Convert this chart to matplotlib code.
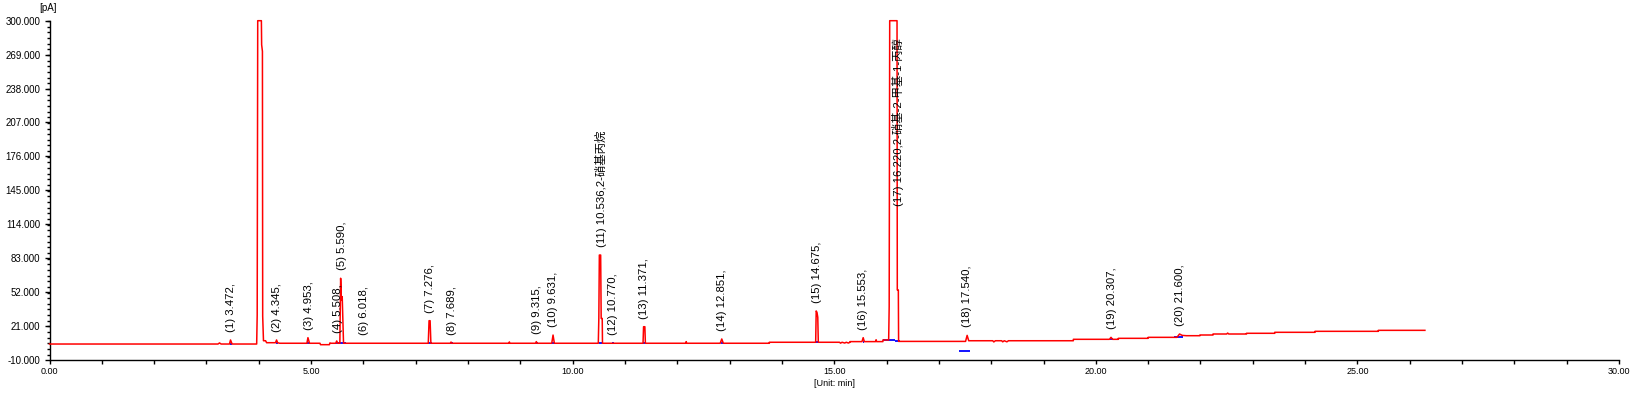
import matplotlib
matplotlib.use('Agg')
import matplotlib.pyplot as plt
from matplotlib.ticker import MultipleLocator, FormatStrFormatter

plt.rcParams['font.family'] = ['Liberation Sans', 'Noto Sans CJK SC', 'DejaVu Sans']

# peak table: retention time, apex height [pA], label
peak_rt = [3.472, 4.345, 4.953, 5.508, 5.590, 6.018, 7.276, 7.689, 9.315, 9.631,
           10.536, 10.770, 11.371, 12.851, 14.675, 15.553, 16.220, 17.540, 20.307, 21.600]
peak_height = [8.3, 8.3, 10.4, 7.4, 64.7, 5.3, 25.9, 5.6, 6.8, 12.8,
               85.9, 5.6, 20.4, 9.2, 34.8, 10.4, 300.0, 12.5, 10.7, 13.75]
peak_label = ["(1) 3.472,", "(2) 4.345,", "(3) 4.953,", "(4) 5.508,", "(5) 5.590,",
              "(6) 6.018,", "(7) 7.276,", "(8) 7.689,", "(9) 9.315,", "(10) 9.631,",
              "(11) 10.536,2-硝基丙烷", "(12) 10.770,", "(13) 11.371,", "(14) 12.851,",
              "(15) 14.675,", "(16) 15.553,", "(17) 16.220,2-硝基-2-甲基-1-丙醇",
              "(18) 17.540,", "(19) 20.307,", "(20) 21.600,"]

# chromatogram trace (min, pA)
trace_t = [0.00, 3.22, 3.25, 3.28, 3.44, 3.46, 3.49, 3.96, 3.97, 3.98, 4.05, 4.055, 4.07, 4.075,
           4.09, 4.13, 4.15, 4.32, 4.34, 4.36, 4.40, 4.92, 4.94, 4.97, 5.17, 5.18, 5.35, 5.36,
           5.38, 5.47, 5.49, 5.51, 5.55, 5.565, 5.58, 5.595, 5.62, 7.24, 7.255, 7.275, 7.29,
           7.66, 7.675, 7.69, 8.78, 8.79, 8.80, 9.29, 9.305, 9.32, 9.60, 9.625, 9.65,
           10.49, 10.50, 10.51, 10.535, 10.545, 10.565, 10.57, 11.345, 11.355, 11.38, 11.39,
           12.16, 12.17, 12.18, 12.82, 12.85, 12.88, 13.76, 13.76, 14.645, 14.655, 14.67,
           14.685, 14.695, 15.10, 15.12, 15.15, 15.20, 15.23, 15.27, 15.30, 15.30, 15.53,
           15.553, 15.575, 15.79, 15.80, 15.81, 15.93, 15.93, 16.04, 16.05, 16.06, 16.20,
           16.205, 16.225, 16.23, 17.51, 17.54, 17.57, 18.03, 18.05, 18.08, 18.20, 18.22,
           18.25, 18.30, 18.33, 19.57, 19.57, 20.26, 20.29, 20.32, 20.43, 20.43, 21.00,
           21.00, 21.55, 21.60, 21.65, 21.73, 21.99, 21.99, 22.24, 22.24, 22.50, 22.52,
           22.54, 22.88, 22.88, 23.42, 23.42, 24.19, 24.19, 25.40, 25.40, 26.29]
trace_v = [4.6, 4.6, 5.6, 4.6, 4.6, 8.3, 4.6, 4.6, 31.0, 300.0, 300.0, 278.0, 272.0, 30.0,
           7.6, 7.6, 5.8, 5.8, 8.3, 5.8, 5.3, 5.3, 10.4, 5.3, 5.3, 4.0, 4.0, 5.6,
           5.3, 5.3, 7.4, 5.3, 5.3, 64.7, 45.0, 47.9, 5.3, 5.3, 25.9, 25.9, 5.3,
           5.3, 6.4, 5.3, 5.3, 6.5, 5.3, 5.3, 6.8, 5.3, 5.3, 12.8, 5.3,
           5.3, 28.0, 85.9, 85.9, 28.0, 28.0, 5.3, 5.3, 20.4, 20.4, 5.3,
           5.3, 6.8, 5.3, 5.3, 9.2, 5.3, 5.3, 6.2, 6.2, 34.8, 33.5,
           29.0, 6.2, 6.2, 5.4, 6.2, 5.5, 6.2, 5.5, 6.2, 6.8, 6.8,
           10.4, 6.8, 6.8, 8.5, 6.8, 6.8, 8.3, 8.3, 38.7, 300.0, 300.0,
           54.0, 54.0, 7.0, 7.0, 12.5, 7.6, 7.6, 6.5, 7.6, 7.6, 6.6,
           7.6, 6.6, 7.6, 7.6, 8.9, 8.9, 10.7, 8.9, 8.9, 9.8, 9.8,
           10.7, 10.7, 13.75, 12.5, 12.2, 12.2, 12.84, 12.84, 13.75, 13.75, 14.6,
           13.75, 13.75, 14.4, 14.4, 15.3, 15.3, 16.2, 16.2, 17.1, 17.1]

# integration baseline marks (start, end, level)
base_t0 = [3.45, 4.33, 4.93, 5.47, 7.23, 7.66, 9.29, 9.60, 10.50, 10.76, 11.35, 12.83,
           14.65, 15.54, 15.93, 16.16, 17.38, 20.28, 21.50]
base_t1 = [3.49, 4.36, 4.97, 5.66, 7.31, 7.71, 9.33, 9.66, 10.57, 10.79, 11.39, 12.88,
           14.70, 15.57, 16.16, 16.25, 17.59, 20.33, 21.66]
base_v = [4.6, 5.8, 5.3, 5.3, 5.3, 5.3, 5.3, 5.3, 5.3, 5.3, 5.3, 5.3,
          6.2, 6.8, 8.3, 7.0, -2.0, 8.9, 11.2]

fig = plt.figure(figsize=(16.36, 3.95), dpi=100)
ax = fig.add_axes([49.5 / 1636, 35 / 395, 1569.5 / 1636, 339.3 / 395])

ax.plot(trace_t, trace_v, color='#ff0000', lw=1.1, clip_on=False, zorder=3)
ax.hlines(base_v, base_t0, base_t1, color='#0000ff', lw=1.3, zorder=2)

for t, h, s in zip(peak_rt, peak_height, peak_label):
    if h >= 300:
        ax.annotate(s, xy=(t, 300), xytext=(0, -12.5), textcoords='offset points',
                    rotation=90, ha='center', va='top', fontsize=8.2, color='black')
    else:
        ax.annotate(s, xy=(t, h), xytext=(0, 5.8), textcoords='offset points',
                    rotation=90, ha='center', va='bottom', fontsize=8.2, color='black')

ax.set_xlim(0, 30)
ax.set_ylim(-10, 300)
ax.xaxis.set_major_locator(MultipleLocator(5))
ax.xaxis.set_minor_locator(MultipleLocator(1))
ax.xaxis.set_major_formatter(FormatStrFormatter('%.2f'))
ax.set_yticks([-10 + 31 * i for i in range(11)])
ax.yaxis.set_minor_locator(MultipleLocator(31 / 6))
ax.yaxis.set_major_formatter(FormatStrFormatter('%.3f'))

ax.spines['top'].set_visible(False)
ax.spines['right'].set_visible(False)
ax.spines['left'].set_linewidth(1.0)
ax.spines['bottom'].set_linewidth(1.0)
ax.tick_params(axis='y', which='major', length=3.6, width=1.0, pad=3.0, labelsize=7)
ax.tick_params(axis='y', which='minor', length=2.2, width=1.0)
ax.tick_params(axis='x', which='both', length=3.0, width=1.0, pad=2.0, labelsize=6.5)

ax.set_xlabel('[Unit: min]', fontsize=6.5, labelpad=2.5)
fig.text(48.5 / 1636, 1 - 8 / 395, '[pA]', fontsize=7, ha='center', va='center')

fig.savefig('out.png', dpi=100)
